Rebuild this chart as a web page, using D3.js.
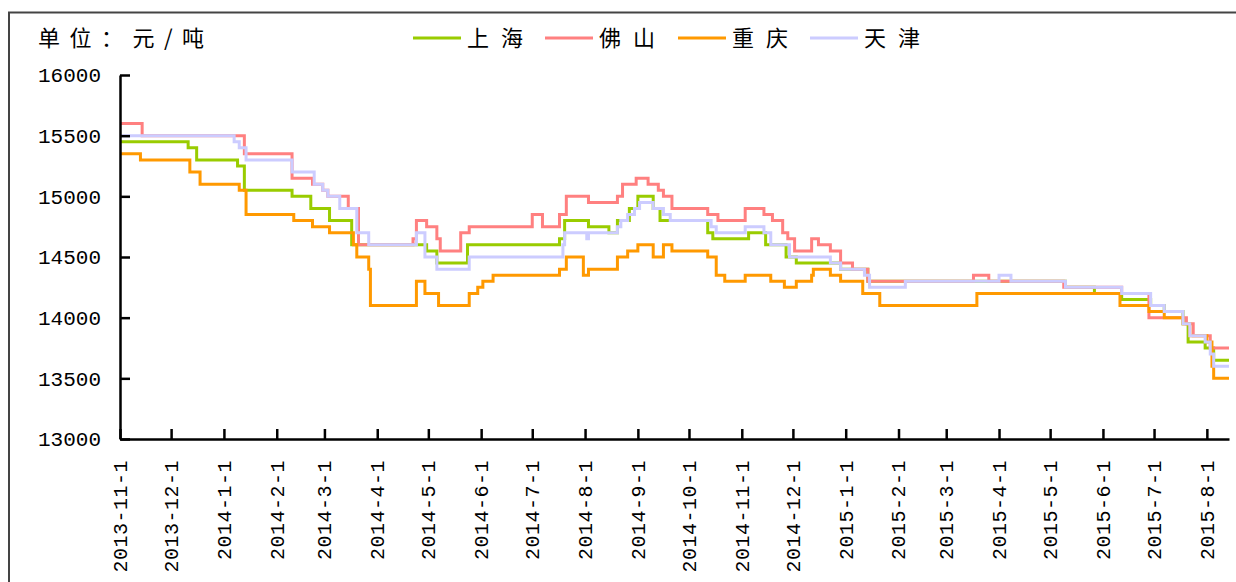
<!DOCTYPE html>
<html>
<head>
<meta charset="utf-8">
<script src="https://cdn.jsdelivr.net/npm/d3@7/dist/d3.min.js"></script>
<style>
  html, body { margin: 0; padding: 0; background: #fff; }
  svg { display: block; }
</style>
</head>
<body>
<svg id="chart" width="1236" height="582"></svg>
<script>
// ---------------- DATA ----------------
const cities = ["上海", "佛山", "重庆", "天津"];
const unitLabel = "单位：元/吨";
const yTicks = [13000, 13500, 14000, 14500, 15000, 15500, 16000];
const startDate = "2013-11-01";
const endDate = "2015-08-14";

// change points (step-after): [date, price]
const shanghai = [
  ["2013-11-01",15450],["2013-12-11",15400],["2013-12-16",15300],["2014-01-09",15250],
  ["2014-01-13",15050],["2014-02-10",15000],["2014-02-21",14900],["2014-03-04",14800],
  ["2014-03-17",14600],["2014-04-30",14550],["2014-05-06",14450],["2014-05-24",14600],
  ["2014-07-17",14650],["2014-07-20",14800],["2014-08-03",14750],["2014-08-15",14700],
  ["2014-08-20",14800],["2014-08-27",14900],["2014-09-01",15000],["2014-09-10",14900],
  ["2014-09-14",14800],["2014-10-12",14700],["2014-10-15",14650],["2014-11-05",14700],
  ["2014-11-15",14600],["2014-11-27",14500],["2014-12-03",14450],["2014-12-29",14400],
  ["2015-01-14",14300],["2015-05-10",14250],["2015-05-27",14200],["2015-06-12",14150],
  ["2015-06-29",14100],["2015-07-07",14050],["2015-07-18",13950],["2015-07-21",13800],
  ["2015-07-31",13750],["2015-08-05",13650],["2015-08-14",13650]
];
const foshan = [
  ["2013-11-01",15600],["2013-11-14",15500],["2014-01-13",15350],["2014-02-10",15150],
  ["2014-02-22",15100],["2014-02-28",15050],["2014-03-03",15000],["2014-03-15",14900],
  ["2014-03-21",14600],["2014-04-22",14650],["2014-04-24",14800],["2014-04-30",14750],
  ["2014-05-06",14650],["2014-05-08",14550],["2014-05-20",14700],["2014-05-25",14750],
  ["2014-07-01",14850],["2014-07-07",14750],["2014-07-17",14850],["2014-07-21",15000],
  ["2014-08-03",14950],["2014-08-20",15000],["2014-08-23",15100],["2014-08-31",15150],
  ["2014-09-07",15100],["2014-09-13",15050],["2014-09-16",15000],["2014-09-21",14900],
  ["2014-10-12",14850],["2014-10-18",14800],["2014-11-03",14900],["2014-11-14",14850],
  ["2014-11-19",14800],["2014-11-25",14700],["2014-11-28",14650],["2014-12-02",14550],
  ["2014-12-12",14650],["2014-12-16",14600],["2014-12-23",14550],["2014-12-29",14450],
  ["2015-01-05",14400],["2015-01-14",14300],["2015-03-17",14350],["2015-03-26",14300],
  ["2015-05-09",14250],["2015-06-12",14200],["2015-06-28",14000],["2015-07-20",13950],
  ["2015-07-24",13850],["2015-08-03",13750],["2015-08-14",13750]
];
const chongqing = [
  ["2013-11-01",15350],["2013-11-13",15300],["2013-12-12",15200],["2013-12-18",15100],
  ["2014-01-10",15050],["2014-01-14",14850],["2014-02-11",14800],["2014-02-22",14750],
  ["2014-03-04",14700],["2014-03-18",14600],["2014-03-20",14500],["2014-03-27",14400],
  ["2014-03-28",14100],["2014-04-24",14300],["2014-04-29",14200],["2014-05-07",14100],
  ["2014-05-25",14200],["2014-05-30",14250],["2014-06-02",14300],["2014-06-08",14350],
  ["2014-07-17",14400],["2014-07-21",14500],["2014-07-31",14350],["2014-08-03",14400],
  ["2014-08-20",14500],["2014-08-26",14550],["2014-09-01",14600],["2014-09-10",14500],
  ["2014-09-16",14600],["2014-09-21",14550],["2014-10-12",14500],["2014-10-17",14350],
  ["2014-10-22",14300],["2014-11-03",14350],["2014-11-18",14300],["2014-11-26",14250],
  ["2014-12-03",14300],["2014-12-12",14350],["2014-12-13",14400],["2014-12-23",14350],
  ["2014-12-29",14300],["2015-01-11",14200],["2015-01-21",14100],["2015-03-19",14200],
  ["2015-06-11",14100],["2015-06-28",14050],["2015-07-07",14000],["2015-07-18",13950],
  ["2015-07-22",13850],["2015-08-01",13800],["2015-08-04",13600],["2015-08-05",13500],
  ["2015-08-14",13500]
];
const tianjin = [
  ["2013-11-01",15500],["2014-01-07",15450],["2014-01-10",15400],["2014-01-14",15300],
  ["2014-02-10",15200],["2014-02-23",15100],["2014-02-28",15050],["2014-03-03",15000],
  ["2014-03-10",14900],["2014-03-20",14700],["2014-03-27",14600],["2014-04-24",14700],
  ["2014-04-29",14500],["2014-05-06",14400],["2014-05-25",14500],["2014-07-19",14600],
  ["2014-07-20",14700],["2014-08-02",14650],["2014-08-03",14700],["2014-08-20",14750],
  ["2014-08-22",14800],["2014-08-26",14850],["2014-08-30",14900],["2014-09-02",14950],
  ["2014-09-10",14900],["2014-09-16",14850],["2014-09-20",14800],["2014-10-14",14750],
  ["2014-10-17",14700],["2014-11-03",14750],["2014-11-14",14700],["2014-11-18",14600],
  ["2014-11-29",14500],["2014-12-23",14450],["2014-12-29",14400],["2015-01-12",14350],
  ["2015-01-15",14250],["2015-02-05",14300],["2015-04-01",14350],["2015-04-08",14300],
  ["2015-05-10",14250],["2015-06-12",14200],["2015-06-29",14100],["2015-07-07",14050],
  ["2015-07-18",13950],["2015-07-22",13850],["2015-07-31",13800],["2015-08-03",13700],
  ["2015-08-05",13600],["2015-08-14",13600]
];
const seriesData = [shanghai, foshan, chongqing, tianjin];
const colors = ["#99cc00", "#ff8080", "#ff9900", "#ccccff"];

// ---------------- CHART ----------------
const parse = d3.timeParse("%Y-%m-%d");
const svg = d3.select("#chart");

// outer frame
svg.append("path")
  .attr("d", "M9,582 L9,12.5 L1236,12.5")
  .attr("fill", "none").attr("stroke", "#444").attr("stroke-width", 2);

const x = d3.scaleTime().domain([parse(startDate), parse(endDate)]).range([120, 1229]);
const y = d3.scaleLinear().domain([13000, 16000]).range([439, 75]);

const cjk = "'Noto Sans CJK SC', sans-serif";
const num = "'Liberation Mono', monospace";

// unit label
svg.append("text").attr("x", 38).attr("y", 46)
  .attr("font-family", cjk).attr("font-size", 22).attr("fill", "#000")
  .attr("textLength", 166).attr("lengthAdjust", "spacing")
  .text(unitLabel);

// series lines
const line = d3.line()
  .x(d => x(parse(d[0])))
  .y(d => y(d[1]))
  .curve(d3.curveStepAfter);

seriesData.forEach((s, i) => {
  svg.append("path").datum(s)
    .attr("fill", "none")
    .attr("stroke", colors[i])
    .attr("stroke-width", 3)
    .attr("d", line);
});

// y axis
const yAxis = svg.append("g").attr("transform", "translate(120,0)")
  .call(d3.axisLeft(y).tickValues(yTicks).tickFormat(d3.format("d"))
        .tickSizeInner(-10).tickSizeOuter(0).tickPadding(19));
yAxis.select(".domain").attr("stroke", "#000").attr("stroke-width", 2.5);
yAxis.selectAll(".tick line").attr("stroke", "#000").attr("stroke-width", 2.5);
yAxis.selectAll("text").attr("font-family", num).attr("font-size", 21).attr("fill", "#000");

// x axis
const monthTicks = d3.timeMonth.range(parse("2013-11-01"), parse("2015-08-02"));
const xAxis = svg.append("g").attr("transform", "translate(0,439)")
  .call(d3.axisBottom(x).tickValues(monthTicks).tickFormat(d3.timeFormat("%Y-%-m-%-d"))
        .tickSizeInner(-10).tickSizeOuter(0));
xAxis.select(".domain").attr("stroke", "#000").attr("stroke-width", 2.5);
xAxis.selectAll(".tick line").attr("stroke", "#000").attr("stroke-width", 2.5);
xAxis.selectAll("text")
  .attr("font-family", num).attr("font-size", 20).attr("fill", "#000")
  .attr("letter-spacing", 0.5)
  .attr("text-anchor", "end")
  .attr("transform", "rotate(-90)")
  .attr("x", -21).attr("y", 0).attr("dy", "0.32em");

// legend
const legendX = [413, 545, 678, 810];
const legend = svg.append("g");
cities.forEach((c, i) => {
  legend.append("line")
    .attr("x1", legendX[i]).attr("x2", legendX[i] + 48)
    .attr("y1", 38).attr("y2", 38)
    .attr("stroke", colors[i]).attr("stroke-width", 3);
  legend.append("text")
    .attr("x", legendX[i] + 54).attr("y", 46)
    .attr("font-family", cjk).attr("font-size", 22).attr("fill", "#000")
    .attr("textLength", 56).attr("lengthAdjust", "spacing")
    .text(c);
});
</script>
</body>
</html>
